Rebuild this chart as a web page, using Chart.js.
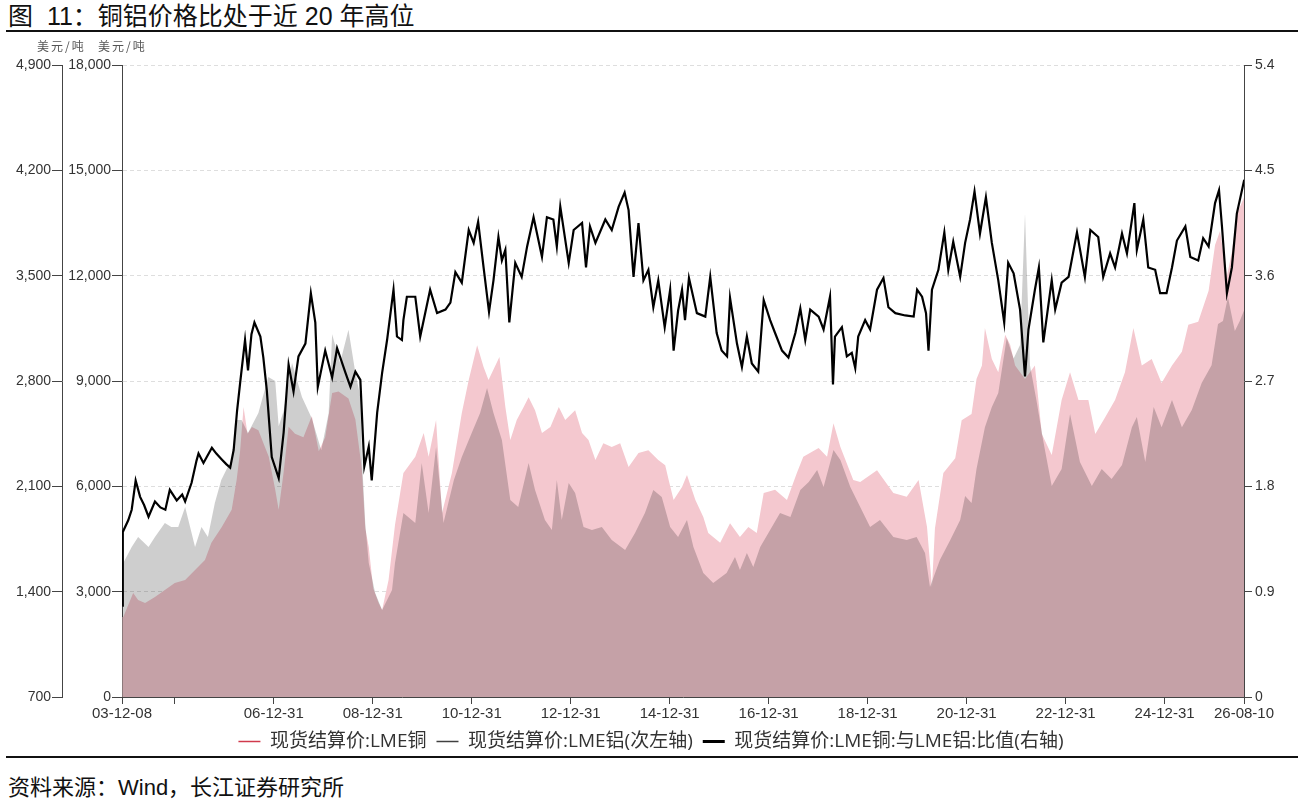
<!DOCTYPE html>
<html>
<head>
<meta charset="utf-8">
<script src="https://cdn.jsdelivr.net/npm/chart.js@4.4.1/dist/chart.umd.min.js"></script>
<style>
  body { margin: 0; background: #fff; font-family: "Liberation Sans", "Noto Sans CJK SC", sans-serif; }
  .title { position: absolute; left: 8px; top: 1px; font-size: 25px; line-height: 1.2; color: #111; }
  .rule { position: absolute; left: 6px; width: 1292px; height: 2px; background: #111; z-index: 2; }
  .unit { position: absolute; top: 37px; font-size: 12px; letter-spacing: 2px; color: #555; font-family: "Noto Sans CJK SC", sans-serif; z-index: 2; }
  .source { position: absolute; left: 8px; top: 774px; font-size: 22px; line-height: 1.3; color: #111; }
  #wrap { position: absolute; left: 0; top: 40px; width: 1302px; height: 721px; }
</style>
</head>
<body>
<div class="title">图&nbsp;&nbsp;11：铜铝价格比处于近 20 年高位</div>
<div class="rule" style="top:30px"></div>
<div id="wrap"><canvas id="chart"></canvas></div>
<div class="unit" style="left:37px">美元/吨</div>
<div class="unit" style="left:98px">美元/吨</div>
<div class="rule" style="top:756px"></div>
<div class="source">资料来源：Wind，长江证券研究所</div>

<script>
// 日期用小数年表示
const cuYears = [2003.94, 2003.96, 2004.16, 2004.26, 2004.40, 2004.60, 2004.80, 2005.00, 2005.21, 2005.41,
  2005.61, 2005.74, 2005.95, 2006.15, 2006.25, 2006.32, 2006.39, 2006.47, 2006.56, 2006.69,
  2006.80, 2006.90, 2007.03, 2007.10, 2007.20, 2007.30, 2007.43, 2007.60, 2007.77, 2007.91,
  2008.04, 2008.18, 2008.31, 2008.51, 2008.65, 2008.78, 2008.85, 2008.92, 2009.01, 2009.12,
  2009.19, 2009.32, 2009.45, 2009.62, 2009.86, 2010.03, 2010.13, 2010.28, 2010.40, 2010.60,
  2010.80, 2010.94, 2011.11, 2011.24, 2011.34, 2011.56, 2011.68, 2011.78, 2011.91, 2012.05,
  2012.15, 2012.28, 2012.42, 2012.59, 2012.76, 2012.89, 2013.09, 2013.23, 2013.36, 2013.50,
  2013.66, 2013.83, 2014.00, 2014.17, 2014.37, 2014.57, 2014.77, 2014.91, 2014.98, 2015.08,
  2015.25, 2015.35, 2015.52, 2015.68, 2015.78, 2016.02, 2016.22, 2016.42, 2016.59, 2016.76,
  2016.90, 2017.13, 2017.37, 2017.57, 2017.70, 2018.01, 2018.18, 2018.31, 2018.45, 2018.71,
  2018.85, 2019.19, 2019.52, 2019.79, 2020.03, 2020.20, 2020.30, 2020.36, 2020.53, 2020.77,
  2020.90, 2021.10, 2021.20, 2021.31, 2021.37, 2021.51, 2021.64, 2021.78, 2021.88, 2021.98,
  2022.18, 2022.38, 2022.52, 2022.72, 2022.92, 2023.09, 2023.26, 2023.46, 2023.60, 2023.80,
  2024.00, 2024.20, 2024.37, 2024.54, 2024.74, 2024.94, 2025.15, 2025.35, 2025.48, 2025.68,
  2025.89, 2026.02, 2026.12, 2026.26, 2026.36, 2026.46, 2026.61];
const cuValues = [2280, 2280, 2960, 2760, 2680, 2850, 3050, 3250, 3330, 3620,
  3900, 4390, 4840, 5330, 6180, 7000, 8260, 7500, 7690, 7600,
  7200, 6840, 5900, 5330, 6400, 7700, 7500, 7400, 8000, 7000,
  7400, 8660, 8700, 8500, 7900, 6500, 4800, 4270, 3100, 2680,
  2480, 3330, 4900, 6380, 6840, 7520, 6840, 7890, 5240, 6380,
  8090, 9030, 10020, 9400, 9030, 9680, 8260, 7320, 7890, 8260,
  8540, 8170, 7520, 7690, 8260, 7890, 8170, 7520, 7320, 6750,
  7230, 7120, 7230, 6550, 6950, 7030, 6750, 6600, 6180, 5610,
  5980, 6320, 5610, 5130, 4670, 4390, 4950, 4560, 4840, 4670,
  5810, 5900, 5610, 6380, 6840, 7090, 6840, 7800, 7120, 6180,
  6120, 6460, 5810, 5700, 6180, 4840, 3130, 4800, 6380, 6800,
  7880, 8060, 9060, 9440, 10510, 9630, 9250, 10320, 10030, 9440,
  9060, 9440, 7490, 6890, 8460, 9250, 8460, 8460, 7490, 7970,
  8460, 9250, 10510, 9440, 9630, 8940, 9440, 9830, 10600, 10690,
  11570, 12870, 13270, 11990, 12670, 13750, 14240];

const alYears = [2003.94, 2003.96, 2004.13, 2004.26, 2004.47, 2004.60, 2004.80, 2004.93, 2005.07, 2005.21,
  2005.31, 2005.41, 2005.54, 2005.67, 2005.81, 2005.94, 2006.07, 2006.17, 2006.22, 2006.35,
  2006.48, 2006.69, 2006.89, 2007.03, 2007.10, 2007.20, 2007.37, 2007.57, 2007.77, 2007.96,
  2008.11, 2008.18, 2008.34, 2008.51, 2008.65, 2008.75, 2008.78, 2008.85, 2008.92, 2009.05,
  2009.19, 2009.39, 2009.45, 2009.62, 2009.86, 2009.99, 2010.13, 2010.28, 2010.43, 2010.64,
  2010.80, 2011.00, 2011.17, 2011.31, 2011.44, 2011.61, 2011.78, 2011.94, 2012.15, 2012.28,
  2012.48, 2012.62, 2012.72, 2012.82, 2012.96, 2013.09, 2013.26, 2013.43, 2013.63, 2013.83,
  2014.10, 2014.30, 2014.50, 2014.67, 2014.84, 2015.01, 2015.17, 2015.35, 2015.48, 2015.68,
  2015.88, 2016.15, 2016.32, 2016.42, 2016.56, 2016.69, 2016.83, 2017.03, 2017.23, 2017.44,
  2017.64, 2017.81, 2017.98, 2018.11, 2018.31, 2018.45, 2018.65, 2018.85, 2019.05, 2019.25,
  2019.52, 2019.79, 2019.99, 2020.16, 2020.26, 2020.46, 2020.67, 2020.87, 2020.97, 2021.10,
  2021.20, 2021.37, 2021.51, 2021.64, 2021.81, 2021.95, 2022.08, 2022.18, 2022.28, 2022.41,
  2022.55, 2022.72, 2022.92, 2023.09, 2023.29, 2023.53, 2023.73, 2023.93, 2024.14, 2024.34,
  2024.44, 2024.61, 2024.78, 2024.94, 2025.15, 2025.35, 2025.55, 2025.75, 2025.95, 2026.08,
  2026.18, 2026.28, 2026.42, 2026.52, 2026.61];
const alValues = [1564, 1590, 1697, 1763, 1697, 1763, 1856, 1830, 1830, 1963,
  1830, 1697, 1830, 1763, 1990, 2142, 2229, 2275, 2541, 2541,
  2455, 2588, 2827, 2800, 2500, 2600, 2920, 2694, 2550, 2340,
  2588, 3110, 2920, 3140, 2853, 2694, 2300, 1850, 1590, 1391,
  1278, 1411, 1590, 1923, 1856, 2255, 1923, 2362, 1856, 2142,
  2295, 2455, 2588, 2754, 2588, 2408, 2009, 1963, 2255, 2076,
  1876, 1810, 2142, 1876, 2122, 2056, 1830, 1810, 1830, 1743,
  1677, 1790, 1923, 2076, 2029, 1830, 1763, 1876, 1697, 1524,
  1457, 1524, 1630, 1544, 1657, 1564, 1697, 1810, 1923, 1896,
  2076, 2129, 2209, 2096, 2342, 2275, 2096, 1963, 1830, 1876,
  1763, 1743, 1763, 1657, 1431, 1610, 1743, 1876, 2036, 1990,
  2216, 2492, 2627, 2720, 3086, 2950, 3040, 3910, 2904, 2674,
  2400, 2103, 2216, 2581, 2262, 2103, 2216, 2149, 2242, 2492,
  2561, 2262, 2627, 2492, 2674, 2492, 2607, 2786, 2904, 3179,
  3199, 3358, 3133, 3199, 3272];

const ratioYears = [2003.94, 2003.95, 2004.06, 2004.13, 2004.21, 2004.30, 2004.38, 2004.47, 2004.60, 2004.71,
  2004.81, 2004.90, 2005.04, 2005.15, 2005.21, 2005.34, 2005.44, 2005.48, 2005.58, 2005.75,
  2005.84, 2005.95, 2006.04, 2006.12, 2006.19, 2006.26, 2006.32, 2006.42, 2006.48, 2006.55,
  2006.61, 2006.73, 2006.79, 2006.86, 2006.96, 2007.10, 2007.20, 2007.30, 2007.40, 2007.50,
  2007.64, 2007.75, 2007.84, 2007.89, 2008.04, 2008.18, 2008.28, 2008.45, 2008.55, 2008.65,
  2008.75, 2008.83, 2008.92, 2008.98, 2009.09, 2009.19, 2009.29, 2009.42, 2009.49, 2009.59,
  2009.62, 2009.69, 2009.86, 2009.96, 2010.16, 2010.30, 2010.47, 2010.57, 2010.67, 2010.80,
  2010.94, 2011.04, 2011.13, 2011.24, 2011.35, 2011.44, 2011.54, 2011.61, 2011.68, 2011.76,
  2011.88, 2012.01, 2012.12, 2012.25, 2012.42, 2012.52, 2012.65, 2012.72, 2012.79, 2012.96,
  2013.06, 2013.23, 2013.31, 2013.39, 2013.50, 2013.70, 2013.83, 2013.97, 2014.09, 2014.17,
  2014.27, 2014.37, 2014.47, 2014.57, 2014.67, 2014.77, 2014.90, 2015.01, 2015.08, 2015.17,
  2015.25, 2015.31, 2015.39, 2015.55, 2015.72, 2015.82, 2015.95, 2016.05, 2016.16, 2016.22,
  2016.36, 2016.46, 2016.56, 2016.66, 2016.79, 2016.90, 2017.03, 2017.13, 2017.27, 2017.40,
  2017.54, 2017.64, 2017.74, 2017.84, 2018.01, 2018.11, 2018.24, 2018.30, 2018.34, 2018.48,
  2018.58, 2018.68, 2018.75, 2018.81, 2018.95, 2019.05, 2019.19, 2019.32, 2019.42, 2019.56,
  2019.76, 2019.93, 2020.00, 2020.10, 2020.18, 2020.23, 2020.30, 2020.43, 2020.55, 2020.63,
  2020.73, 2020.87, 2020.97, 2021.07, 2021.16, 2021.27, 2021.39, 2021.51, 2021.64, 2021.76,
  2021.84, 2021.95, 2022.08, 2022.18, 2022.25, 2022.38, 2022.46, 2022.55, 2022.72, 2022.79,
  2022.92, 2023.06, 2023.23, 2023.39, 2023.50, 2023.66, 2023.76, 2023.90, 2024.00, 2024.14,
  2024.24, 2024.39, 2024.44, 2024.57, 2024.67, 2024.81, 2024.91, 2025.04, 2025.15, 2025.25,
  2025.42, 2025.52, 2025.68, 2025.78, 2025.89, 2026.02, 2026.10, 2026.16, 2026.26, 2026.36,
  2026.46, 2026.61];
const ratioValues = [0.78, 1.41, 1.51, 1.60, 1.85, 1.71, 1.64, 1.54, 1.67, 1.62,
  1.60, 1.77, 1.68, 1.73, 1.67, 1.83, 2.02, 2.08, 2.00, 2.13,
  2.08, 2.03, 1.99, 1.96, 2.11, 2.45, 2.68, 3.05, 2.79, 3.10,
  3.20, 3.08, 2.90, 2.62, 2.05, 1.87, 2.26, 2.84, 2.61, 2.91,
  3.02, 3.45, 3.20, 2.65, 2.96, 2.73, 2.98, 2.77, 2.65, 2.78,
  2.71, 1.97, 2.14, 1.85, 2.43, 2.77, 3.05, 3.48, 3.08, 3.05,
  3.22, 3.42, 3.42, 3.08, 3.48, 3.28, 3.31, 3.37, 3.63, 3.54,
  3.99, 3.88, 4.06, 3.67, 3.29, 3.56, 3.93, 3.73, 3.82, 3.20,
  3.71, 3.59, 3.85, 4.10, 3.76, 4.10, 4.08, 3.85, 4.19, 3.71,
  3.99, 4.05, 3.67, 4.02, 3.88, 4.08, 3.99, 4.19, 4.31, 4.16,
  3.59, 4.05, 3.56, 3.65, 3.33, 3.56, 3.16, 3.48, 2.96, 3.30,
  3.48, 3.22, 3.58, 3.28, 3.25, 3.59, 3.11, 2.96, 2.91, 3.41,
  3.02, 2.82, 3.08, 2.85, 2.78, 3.39, 3.22, 3.11, 2.96, 2.90,
  3.11, 3.32, 3.05, 3.31, 3.25, 3.14, 3.42, 2.67, 3.08, 3.16,
  2.91, 2.94, 2.81, 3.08, 3.22, 3.14, 3.48, 3.58, 3.33, 3.28,
  3.26, 3.25, 3.48, 3.42, 3.28, 2.96, 3.48, 3.65, 3.97, 3.65,
  3.89, 3.59, 3.88, 4.08, 4.32, 3.96, 4.27, 3.88, 3.56, 3.20,
  3.71, 3.62, 3.31, 2.74, 3.14, 3.48, 3.67, 3.03, 3.56, 3.31,
  3.54, 3.59, 3.97, 3.59, 3.99, 3.93, 3.59, 3.79, 3.67, 3.96,
  3.79, 4.22, 3.82, 4.08, 3.67, 3.65, 3.45, 3.45, 3.67, 3.90,
  4.02, 3.76, 3.73, 3.92, 3.85, 4.22, 4.33, 4.02, 3.45, 3.67,
  4.13, 4.42];

// 刻度
const xTickValues = [2003.934, 2005.0, 2007.0, 2009.0, 2011.0, 2013.0, 2015.0, 2017.0, 2019.0, 2021.0, 2023.0, 2025.0, 2026.605];
const xTickLabels = ['03-12-08', '', '06-12-31', '08-12-31', '10-12-31', '12-12-31', '14-12-31', '16-12-31', '18-12-31', '20-12-31', '22-12-31', '24-12-31', '26-08-10'];
const cuTicks = [0, 3000, 6000, 9000, 12000, 15000, 18000];
const alTicks = [700, 1400, 2100, 2800, 3500, 4200, 4900];
const ratioTicks = [0, 0.9, 1.8, 2.7, 3.6, 4.5, 5.4];

const seriesNames = ['现货结算价:LME铜', '现货结算价:LME铝(次左轴)', '现货结算价:LME铜:与LME铝:比值(右轴)'];
const legendColors = ['#d03a4c', '#404040', '#000000'];
const legendWidths = [1.5, 1.5, 3];

function pts(xs, ys) {
  return xs.map((x, i) => ({ x: x, y: ys[i] }));
}
function fmt(v) {
  return v.toLocaleString('en-US');
}

const whiteBg = {
  id: 'whiteBg',
  beforeDraw(chart) {
    const ctx = chart.ctx;
    ctx.save();
    ctx.fillStyle = '#fff';
    ctx.fillRect(0, 0, chart.width, chart.height);
    ctx.restore();
  }
};
// 铜画完后切到正片叠底，铝的面积叠在铜上，铝画完再恢复
const multiply = {
  id: 'multiply',
  afterDatasetDraw(chart, args) {
    if (args.index === 0) {
      chart.ctx.save();
      chart.ctx.globalCompositeOperation = 'multiply';
    } else if (args.index === 1) {
      chart.ctx.restore();
    }
  }
};

const yFont = { family: '"Liberation Sans", "Noto Sans CJK SC", sans-serif', size: 14 };
const xFont = { family: '"Liberation Sans", "Noto Sans CJK SC", sans-serif', size: 15 };

new Chart(document.getElementById('chart'), {
  type: 'line',
  data: {
    datasets: [{
      label: seriesNames[0],
      data: pts(cuYears, cuValues),
      yAxisID: 'yCu',
      borderWidth: 0,
      backgroundColor: 'rgb(244,200,207)',
      fill: 'origin',
      pointRadius: 0,
      order: 2
    }, {
      label: seriesNames[1],
      data: pts(alYears, alValues),
      yAxisID: 'yAl',
      borderWidth: 0,
      backgroundColor: 'rgb(206,206,206)',
      fill: 'start',
      pointRadius: 0,
      order: 1
    }, {
      label: seriesNames[2],
      data: pts(ratioYears, ratioValues),
      yAxisID: 'yRatio',
      borderColor: '#000',
      borderWidth: 2.2,
      fill: false,
      pointRadius: 0,
      order: 0
    }]
  },
  options: {
    responsive: true,
    maintainAspectRatio: false,
    animation: false,
    layout: { padding: { top: 25, left: 0, right: 0, bottom: 0 } },
    plugins: {
      tooltip: { enabled: false },
      legend: {
        position: 'bottom',
        labels: {
          usePointStyle: true,
          pointStyleWidth: 22,
          padding: 10,
          color: '#333',
          font: { family: '"Open Sans", "Noto Sans CJK SC", sans-serif', size: 19 },
          generateLabels(chart) {
            return chart.data.datasets.map((ds, i) => ({
              text: ds.label,
              strokeStyle: legendColors[i],
              fillStyle: legendColors[i],
              lineWidth: legendWidths[i],
              pointStyle: 'line',
              fontColor: '#333',
              datasetIndex: i,
              hidden: false
            }));
          }
        }
      }
    },
    scales: {
      x: {
        type: 'linear',
        min: xTickValues[0],
        max: xTickValues[xTickValues.length - 1],
        afterBuildTicks(scale) { scale.ticks = xTickValues.map(v => ({ value: v })); },
        afterFit(scale) { scale.height = 25; },
        ticks: {
          autoSkip: false,
          maxRotation: 0,
          color: '#333',
          font: xFont,
          padding: 1,
          callback(v, i) { return xTickLabels[i]; }
        },
        grid: { drawOnChartArea: false, tickLength: 7, tickColor: '#444' },
        border: { color: '#444' }
      },
      yAl: {
        position: 'left',
        weight: 1,
        min: alTicks[0],
        max: alTicks[alTicks.length - 1],
        afterBuildTicks(scale) { scale.ticks = alTicks.map(v => ({ value: v })); },
        afterFit(scale) { scale.width = 62; },
        ticks: { color: '#333', font: yFont, padding: 1, callback: v => fmt(v) },
        grid: { drawOnChartArea: false, tickLength: 10, tickColor: '#444' },
        border: { color: '#444' }
      },
      yCu: {
        position: 'left',
        weight: 0,
        z: 1,
        min: cuTicks[0],
        max: cuTicks[cuTicks.length - 1],
        afterBuildTicks(scale) { scale.ticks = cuTicks.map(v => ({ value: v })); },
        afterFit(scale) { scale.width = 60; },
        ticks: { color: '#333', font: yFont, padding: 1, callback: v => fmt(v) },
        grid: { color: 'rgba(0,0,0,0.13)', tickLength: 10, tickColor: '#444' },
        border: { color: '#444', dash: [4, 3] }
      },
      yRatio: {
        position: 'right',
        min: ratioTicks[0],
        max: ratioTicks[ratioTicks.length - 1],
        afterBuildTicks(scale) { scale.ticks = ratioTicks.map(v => ({ value: v })); },
        afterFit(scale) { scale.width = 58; },
        ticks: { color: '#333', font: yFont, padding: 3, callback: v => (v === 0 ? '0' : v.toFixed(1)) },
        grid: { drawOnChartArea: false, tickLength: 8, tickColor: '#444' },
        border: { color: '#444' }
      }
    }
  },
  plugins: [whiteBg, multiply]
});
</script>
</body>
</html>
